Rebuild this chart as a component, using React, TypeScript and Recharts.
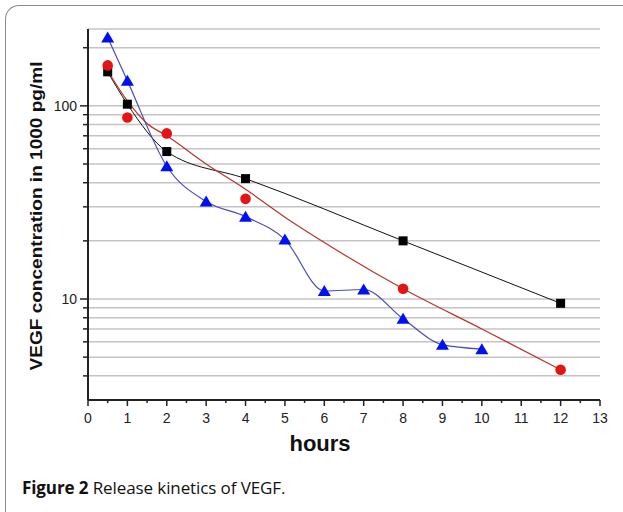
import React from "react";
import { ComposedChart, Line, Scatter, XAxis, YAxis, CartesianGrid } from "recharts";

const blackData = [
  { h: 0.5, v: 150 }, { h: 1, v: 102 }, { h: 2, v: 58 }, { h: 4, v: 42 }, { h: 8, v: 20 }, { h: 12, v: 9.5 },
];
const redPoints = [
  { h: 0.5, v: 162 }, { h: 1, v: 87 }, { h: 2, v: 72 }, { h: 4, v: 33 }, { h: 8, v: 11.3 }, { h: 12, v: 4.3 },
];
const redFit = [
  { h: 0.5, v: 152 }, { h: 1, v: 106 }, { h: 1.5, v: 81 }, { h: 2, v: 70 }, { h: 3, v: 50 }, { h: 4, v: 37 },
  { h: 5, v: 26.5 }, { h: 6, v: 19.6 }, { h: 8, v: 11.3 }, { h: 10, v: 7.0 }, { h: 12, v: 4.3 },
];
const blueData = [
  { h: 0.5, v: 226 }, { h: 1, v: 135 }, { h: 2, v: 48.7 }, { h: 3, v: 32 }, { h: 4, v: 26.7 }, { h: 5, v: 20.3 },
  { h: 6, v: 11 }, { h: 7, v: 11.2 }, { h: 8, v: 7.9 }, { h: 9, v: 5.8 }, { h: 10, v: 5.5 },
];
const xTicks = [0, 0.5, 1, 1.5, 2, 2.5, 3, 3.5, 4, 4.5, 5, 5.5, 6, 6.5, 7, 7.5, 8, 8.5, 9, 9.5, 10, 10.5, 11, 11.5, 12, 12.5, 13];
const yTicks = [4, 5, 6, 7, 8, 9, 10, 20, 30, 40, 50, 60, 70, 80, 90, 100, 200];
const yLabeled = [10, 100];

const FONT = "'Liberation Sans', Arial, sans-serif";

const XTick = (props: any) => {
  const { x, y, payload } = props;
  const v = payload.value;
  const major = Number.isInteger(v);
  return (
    <g>
      <line x1={x} x2={x} y1={y} y2={y + (major ? 6 : 3)} stroke="#222" strokeWidth={1.5} />
      {major && (
        <text x={x} y={y + 23} textAnchor="middle" fontFamily={FONT} fontSize={14} fill="#222">
          {v}
        </text>
      )}
    </g>
  );
};

const YTick = (props: any) => {
  const { x, y, payload } = props;
  const v = payload.value;
  const major = yLabeled.includes(v);
  return (
    <g>
      <line x1={x - (major ? 8 : 5)} x2={x} y1={y} y2={y} stroke="#222" strokeWidth={1.5} />
      {major && (
        <text x={x - 11} y={y + 5} textAnchor="end" fontFamily={FONT} fontSize={14} fill="#222">
          {v}
        </text>
      )}
    </g>
  );
};

const Square = (p: any) => <rect x={p.cx - 4.5} y={p.cy - 4.5} width={9} height={9} fill="#000" />;
const Circle = (p: any) => <circle cx={p.cx} cy={p.cy} r={5.3} fill="#e41414" />;
const Tri = (p: any) => (
  <polygon points={`${p.cx},${p.cy - 6} ${p.cx - 6.5},${p.cy + 5} ${p.cx + 6.5},${p.cy + 5}`} fill="#0010f0" />
);

export default function App() {
  return (
    <div style={{ position: "absolute", left: 0, top: 0, width: 623, height: 512, overflow: "hidden", background: "#fff" }}>
      <div
        style={{
          position: "absolute", left: 5, top: 5, width: 660, height: 540,
          borderLeft: "1.5px solid #8a8a8a", borderTop: "1.5px solid #8a8a8a", borderTopLeftRadius: 14,
        }}
      />
      <div style={{ position: "absolute", left: 0, top: 0 }}>
        <ComposedChart width={623} height={470} margin={{ top: 29, right: 23, left: 0, bottom: 0 }}>
          <CartesianGrid vertical={false} stroke="#c4c4c4" strokeWidth={1.5} />
          <XAxis
            type="number"
            dataKey="h"
            domain={[0, 13]}
            ticks={xTicks}
            interval={0}
            height={70}
            tickSize={0}
            tickMargin={0}
            tick={<XTick />}
            axisLine={{ stroke: "#222", strokeWidth: 2 }}
            allowDataOverflow
            label={{
              content: () => (
                <text x={320} y={451} textAnchor="middle" fontFamily={FONT} fontWeight="bold" fontSize={22} fill="#111">
                  hours
                </text>
              ),
            }}
          />
          <YAxis
            type="number"
            dataKey="v"
            scale="log"
            domain={[3, 250]}
            ticks={yTicks}
            interval={0}
            width={88}
            tickSize={0}
            tickMargin={0}
            tick={<YTick />}
            axisLine={{ stroke: "#222", strokeWidth: 2 }}
            allowDataOverflow
            label={{
              content: () => (
                <text
                  x={0}
                  y={0}
                  transform="translate(42 216) rotate(-90)"
                  textAnchor="middle"
                  fontFamily={FONT}
                  fontWeight="bold"
                  fontSize={16}
                  fill="#111"
                  textLength={309}
                  lengthAdjust="spacingAndGlyphs"
                >
                  VEGF concentration in 1000 pg/ml
                </text>
              ),
            }}
          />
          <Line data={blackData} dataKey="v" type="monotone" stroke="#111" strokeWidth={1} dot={false} isAnimationActive={false} />
          <Line data={redFit} dataKey="v" type="monotone" stroke="#b8352a" strokeWidth={1.2} dot={false} isAnimationActive={false} />
          <Line data={blueData} dataKey="v" type="monotone" stroke="#4a4ab8" strokeWidth={1.2} dot={false} isAnimationActive={false} />
          <Scatter data={blackData} dataKey="v" shape={<Square />} isAnimationActive={false} />
          <Scatter data={redPoints} dataKey="v" shape={<Circle />} isAnimationActive={false} />
          <Scatter data={blueData} dataKey="v" shape={<Tri />} isAnimationActive={false} />
        </ComposedChart>
      </div>
      <div
        style={{
          position: "absolute", left: 22, top: 476, fontFamily: "'Open Sans', 'Noto Sans', sans-serif",
          fontSize: 17, color: "#111", whiteSpace: "nowrap", letterSpacing: -0.1,
        }}
      >
        <span style={{ fontWeight: 700 }}>Figure 2</span> Release kinetics of VEGF.
      </div>
    </div>
  );
}
